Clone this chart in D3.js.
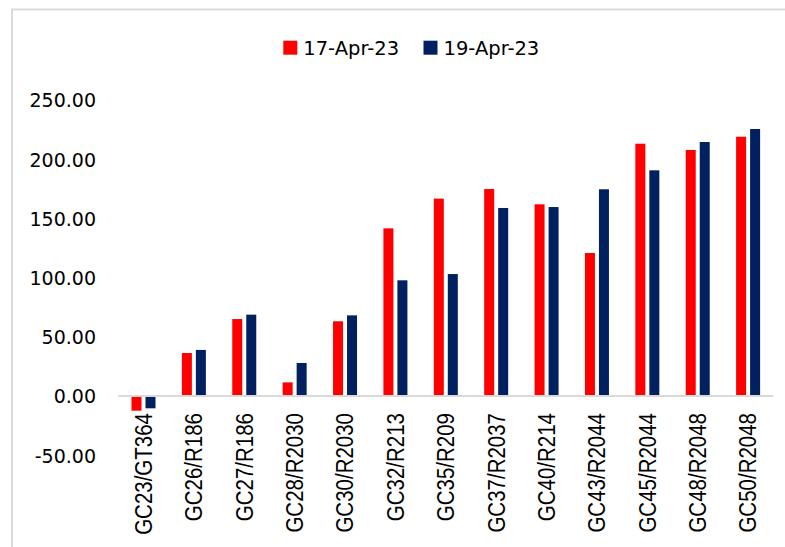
<!DOCTYPE html>
<html>
<head>
<meta charset="utf-8">
<script src="https://cdn.jsdelivr.net/npm/d3@7"></script>
<style>
  html, body { margin: 0; padding: 0; background: #ffffff; }
  svg { display: block; }
</style>
</head>
<body>
<svg id="chart" width="785" height="547"></svg>
<script>
// Bond spread data by issue, two observation dates
const categories = ["GC23/GT364", "GC26/R186", "GC27/R186", "GC28/R2030", "GC30/R2030", "GC32/R213",
  "GC35/R209", "GC37/R2037", "GC40/R214", "GC43/R2044", "GC45/R2044", "GC48/R2048", "GC50/R2048"];
const seriesNames = ["17-Apr-23", "19-Apr-23"];
const apr17 = [-12.4, 36.3, 65.0, 11.5, 63.1, 141.6, 166.7, 174.8, 161.9, 120.8, 213.1, 207.8, 219.0];
const apr19 = [-10.4, 38.9, 68.7, 27.9, 68.1, 97.7, 103.0, 158.8, 159.6, 174.6, 190.6, 214.5, 225.5];
const yTicks = [-50, 0, 50, 100, 150, 200, 250];
const colors = ["#ff0000", "#002060"];

const svg = d3.select("#chart");
const W = 785, H = 547;

// outer chart frame
svg.append("rect")
  .attr("x", 12).attr("y", 9.5)
  .attr("width", W + 20).attr("height", H + 20)
  .attr("fill", "#ffffff")
  .attr("stroke", "#d9d9d9").attr("stroke-width", 2);

const plotLeft = 118.3, plotRight = 773.3;
const x0 = d3.scaleBand().domain(categories).range([plotLeft, plotRight]).paddingInner(0).paddingOuter(0);
const x1 = d3.scaleBand().domain(seriesNames)
  .range([x0.bandwidth() / 2 - 12, x0.bandwidth() / 2 + 12])
  .paddingInner(2 / 7).paddingOuter(0);
const y = d3.scaleLinear().domain([-50, 250]).range([455.2, 100]);

const rows = categories.map((c, i) => ({ cat: c, vals: [apr17[i], apr19[i]] }));

// y tick labels (no axis line, no gridlines); plain hyphen for negatives
const fmt = d3.format(".2f");
const yAxis = d3.axisLeft(y).tickValues(yTicks)
  .tickFormat(d => fmt(d).replace("\u2212", "-"))
  .tickSize(0).tickPadding(0);
const gy = svg.append("g").attr("transform", "translate(96,0)").call(yAxis);
gy.select(".domain").remove();
gy.selectAll("text")
  .attr("font-family", "'DejaVu Sans', sans-serif")
  .attr("font-size", 19)
  .attr("fill", "#000000")
  .attr("dy", "0.36em");

// bars
const groups = svg.append("g").selectAll("g").data(rows).join("g")
  .attr("transform", d => `translate(${x0(d.cat)},0)`);
groups.selectAll("rect")
  .data(d => d.vals.map((v, k) => ({ name: seriesNames[k], v, k })))
  .join("rect")
  .attr("x", d => x1(d.name))
  .attr("width", x1.bandwidth())
  .attr("y", d => y(Math.max(0, d.v)))
  .attr("height", d => Math.abs(y(d.v) - y(0)))
  .attr("fill", d => colors[d.k]);

// zero line
svg.append("line")
  .attr("x1", plotLeft).attr("x2", plotRight)
  .attr("y1", y(0)).attr("y2", y(0))
  .attr("stroke", "#d9d9d9").attr("stroke-width", 2);

// rotated category labels
svg.append("g").selectAll("text").data(categories).join("text")
  .attr("transform", d => `translate(${x0(d) + x0.bandwidth() / 2},413) scale(1.13,1) rotate(-90)`)
  .attr("text-anchor", "end")
  .attr("dy", "0.36em")
  .attr("font-family", "'Liberation Sans', Arial, sans-serif")
  .attr("font-size", 20.5)
  .attr("fill", "#000000")
  .text(d => d);

// legend
const legendItems = [
  { name: seriesNames[0], color: colors[0], x: 283.3 },
  { name: seriesNames[1], color: colors[1], x: 423.5 }
];
const lg = svg.append("g").selectAll("g").data(legendItems).join("g")
  .attr("transform", d => `translate(${d.x},40.7)`);
lg.append("rect").attr("width", 14).attr("height", 14).attr("fill", d => d.color);
lg.append("text")
  .attr("x", 20).attr("y", 7).attr("dy", "0.36em")
  .attr("font-family", "'DejaVu Sans', sans-serif")
  .attr("font-size", 19.5)
  .attr("fill", "#000000")
  .text(d => d.name);
</script>
</body>
</html>
